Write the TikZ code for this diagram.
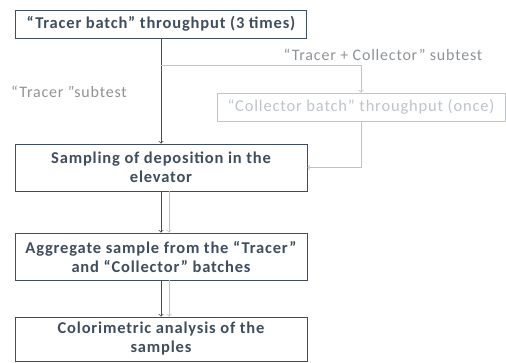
\documentclass[tikz,border=0pt]{standalone}
\usepackage{fontspec}
\setmainfont{Carlito}[LetterSpace=5]
\usetikzlibrary{arrows}
\definecolor{darkline}{RGB}{62,78,94}
\definecolor{greyline}{RGB}{190,196,202}
\tikzset{%
	block/.style    = {draw=darkline, thick, rectangle, text=darkline,
		font=\fontsize{16.5}{19}\selectfont\bfseries, align=center},
	greyblock/.style = {draw=greyline, thick, rectangle, text=greyline,
		font=\fontsize{16.5}{19}\selectfont, align=center},
	note/.style     = {text=greyline!75!black, font=\fontsize{16}{19}\selectfont}, % Label
	darkarr/.style  = {thick, darkline, ->},
	greyarr/.style  = {thick, greyline, ->}
}

\begin{document}
\begin{tikzpicture}[x=1pt,y=-1pt]
			\useasboundingbox (0,0) rectangle (506,362);
			\node[block, minimum width=291pt, minimum height=28pt] (tracer) at (161,24) {``Tracer batch'' throughput (3 times)};
			\node[greyblock, minimum width=288pt, minimum height=28pt] (collector) at (361,107) {``Collector batch'' throughput (once)};
			\node[block, minimum width=292pt, minimum height=47pt] (sampling) at (161,167.5) {Sampling of deposition in the\\ elevator};
			\node[block, minimum width=292pt, minimum height=47pt] (aggregate) at (161,256.5) {Aggregate sample from the ``Tracer''\\ and ``Collector'' batches};
			\node[block, minimum width=292pt, minimum height=44pt] (colorim) at (161,339) {Colorimetric analysis of the\\ samples};
			
			\node[note] (labboth) at (383,55) {``Tracer + Collector'' subtest};
			\node[note] (labtracer) at (69,92) {``Tracer ''subtest};
			\coordinate (split) at (161,65);
			
			\draw[darkarr] (tracer) -- (sampling);
            \draw[greyarr] (split) -| (collector.north);
            \draw[greyarr] (collector.south) |- (sampling.east);
            \draw[darkarr] (sampling) -- (aggregate);
            \draw[greyarr] ([xshift=8pt]sampling.south) -- ([xshift=8pt]aggregate.north);
            \draw[darkarr] (aggregate) -- (colorim);
            \draw[greyarr] ([xshift=8pt]aggregate.south) -- ([xshift=8pt]colorim.north);
		\end{tikzpicture}
\end{document}
